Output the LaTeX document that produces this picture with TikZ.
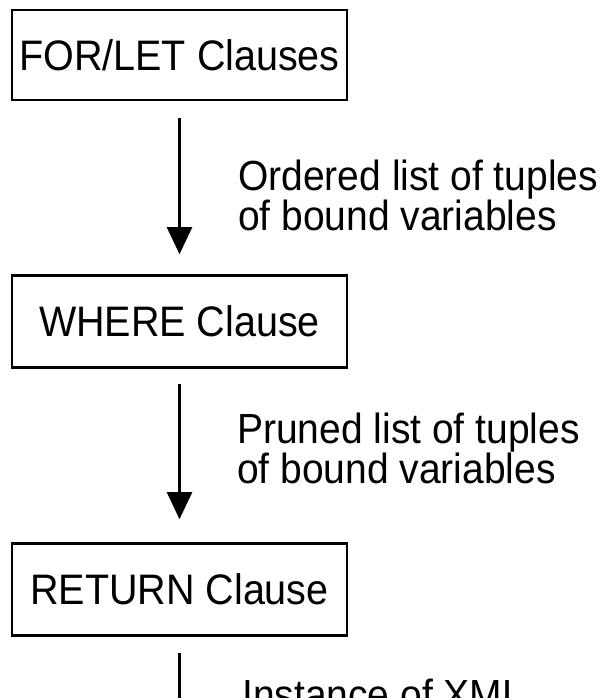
\documentclass[tikz,border=0pt]{standalone}
\usepackage{fontspec}
\setmainfont{Liberation Sans}
\usetikzlibrary{arrows.meta}
% slightly tall lettering
\newcommand{\tallText}[1]{\scalebox{1}[1.08]{#1}}
\begin{document}
\begin{tikzpicture}[x=1pt,y=-1pt,
  clausebox/.style={draw, line width=2.6pt, minimum width=335pt, minimum height=92pt,
    inner sep=0pt, font=\fontsize{39.5}{40}\selectfont},
  flow/.style={line width=2.4pt, -{Triangle[width=25pt,length=27pt]}},
  lbl/.style={anchor=base west, inner sep=0pt, align=left,
    font=\fontsize{39}{40}\selectfont}]
  \useasboundingbox (0,0) rectangle (608,698);
  \clip (0,0) rectangle (608,698);

  % the three clause stages
  \node[clausebox, minimum height=90pt] (forlet) at (179.5,55) {\tallText{FOR/LET Clauses}};
  \node[clausebox] (where)  at (179.5,321.5) {\tallText{WHERE Clause}};
  \node[clausebox] (return) at (179.5,589.5) {\tallText{RETURN Clause}};
  \coordinate (out) at (179.5,770);

  % data flow between stages
  \draw[flow, shorten <=17pt, shorten >=20pt] (forlet) -- (where);
  \draw[flow, shorten <=15pt, shorten >=23pt] (where) -- (return);
  \draw[flow, shorten <=16pt] (return) -- (out);

  % what travels along each arrow (anchored on the last line's baseline)
  \node[lbl] (l1) at (238,230) {\tallText{Ordered list of tuples}\\\tallText{of bound variables}};
  \node[lbl] (l2) at (237,483) {\tallText{Pruned list of tuples}\\\tallText{of bound variables}};
  \node[lbl] (l3) at (242,709) {\tallText{Instance of XML}};
\end{tikzpicture}
\end{document}
